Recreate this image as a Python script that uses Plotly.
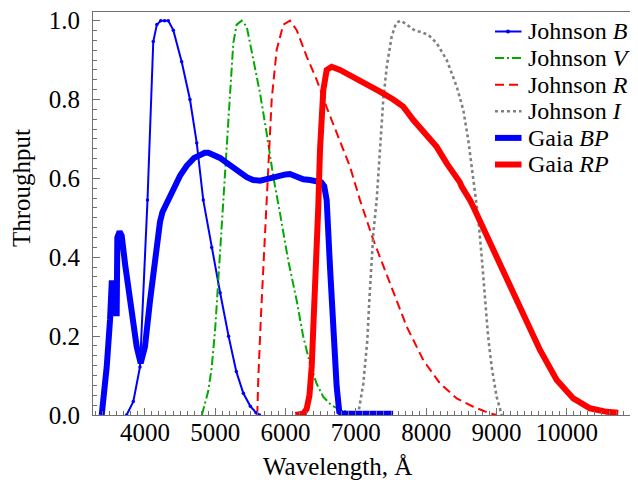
import plotly.graph_objects as go

# ---------------- data (wavelength in Angstrom, throughput) ----------------
B_wl = [3740, 3835, 3930, 4037, 4119, 4170, 4225, 4280, 4333, 4404, 4523, 4641, 4737,
        4830, 4950, 5070, 5190, 5300, 5400, 5500, 5580, 5630]
B_tp = [0.0, 0.034, 0.122, 0.545, 0.947, 0.99, 1.0, 1.0, 1.0, 0.976, 0.896, 0.80, 0.69,
        0.545, 0.425, 0.31, 0.20, 0.11, 0.055, 0.022, 0.006, 0.0]

V_wl = [4810, 4900, 4950, 5000, 5050, 5115, 5163, 5210, 5257, 5305, 5376, 5448, 5541,
        5637, 5732, 5826, 5921, 6040, 6159, 6250, 6348, 6440, 6537, 6650, 6760, 6870, 7030]
V_tp = [0.0, 0.06, 0.12, 0.22, 0.36, 0.545, 0.655, 0.80, 0.943, 0.99, 1.0, 0.985, 0.90,
        0.816, 0.714, 0.604, 0.512, 0.39, 0.29, 0.20, 0.13, 0.08, 0.046, 0.025, 0.015, 0.008, 0.0]

R_wl = [5598, 5612, 5650, 5690, 5732, 5803, 5874, 5968, 6063, 6159, 6301, 6443, 6585,
        6727, 6916, 7059, 7248, 7486, 7723, 7959, 8196, 8434, 8670, 8907, 9007]
R_tp = [0.0, 0.09, 0.25, 0.40, 0.562, 0.80, 0.926, 0.99, 1.0, 0.976, 0.909, 0.85, 0.78,
        0.714, 0.63, 0.545, 0.444, 0.334, 0.224, 0.139, 0.08, 0.042, 0.021, 0.004, 0.0]

I_wl = [7020, 7035, 7106, 7163, 7191, 7225, 7248, 7296, 7343, 7390, 7439, 7509, 7570,
        7630, 7700, 7770, 7840, 7912, 8030, 8149, 8292, 8434, 8528, 8599, 8647, 8694,
        8740, 8790, 8835, 8880, 8931, 9002, 9074]
I_tp = [0.0, 0.004, 0.08, 0.19, 0.29, 0.376, 0.46, 0.545, 0.672, 0.80, 0.883, 0.96, 0.993,
        1.0, 0.993, 0.985, 0.975, 0.972, 0.964, 0.943, 0.90, 0.833, 0.773, 0.697, 0.63, 0.562,
        0.50, 0.40, 0.30, 0.20, 0.122, 0.046, 0.0]

BP_wl = [3386, 3457, 3504, 3528, 3560, 3575, 3599, 3608, 3640, 3670, 3720, 3788, 3883,
         3940, 4001, 4073, 4144, 4215, 4250, 4300, 4357, 4400, 4500, 4594, 4650, 4700,
         4784, 4850, 4902, 4980, 5068, 5160, 5257, 5350, 5448, 5540, 5637, 5730, 5826,
         5921, 6000, 6063, 6160, 6252, 6350, 6443, 6510, 6550, 6585, 6632, 6679, 6727,
         6764, 6800, 7000, 7200, 7400, 7530]
BP_tp = [0.0, 0.122, 0.241, 0.334, 0.334, 0.258, 0.258, 0.45, 0.465, 0.455, 0.38, 0.29, 0.173,
         0.131, 0.173, 0.29, 0.393, 0.49, 0.515, 0.535, 0.552, 0.573, 0.607, 0.632, 0.645, 0.652,
         0.659, 0.665, 0.665, 0.66, 0.652, 0.64, 0.628, 0.613, 0.603, 0.596, 0.594, 0.598, 0.603,
         0.604, 0.61, 0.611, 0.605, 0.598, 0.596, 0.593, 0.59, 0.58, 0.545, 0.376, 0.207, 0.072,
         0.008, 0.004, 0.003, 0.003, 0.003, 0.003]

RP_wl = [6140, 6206, 6250, 6300, 6340, 6372, 6395, 6419, 6443, 6466, 6490, 6514, 6537,
         6585, 6656, 6774, 6963, 7154, 7343, 7532, 7674, 7817, 8007, 8149, 8292, 8434,
         8480, 8505, 8560, 8623, 8670, 8907, 9145, 9381, 9618, 9856, 10092, 10329, 10567, 10732]
RP_tp = [0.0, 0.0, 0.003, 0.015, 0.05, 0.122, 0.207, 0.29, 0.418, 0.53, 0.672, 0.757, 0.824,
         0.875, 0.883, 0.875, 0.858, 0.841, 0.82, 0.80, 0.782, 0.748, 0.706, 0.68, 0.638, 0.604,
         0.59, 0.579, 0.565, 0.545, 0.528, 0.435, 0.342, 0.249, 0.165, 0.089, 0.042, 0.017,
         0.008, 0.006]

x_ticks = [4000, 5000, 6000, 7000, 8000, 9000, 10000, 11000]
x_ticktext = ["4000", "5000", "6000", "7000", "8000", "9000", "10000", ""]
y_ticks = [0.0, 0.2, 0.4, 0.6, 0.8, 1.0]
y_ticktext = ["0.0", "0.2", "0.4", "0.6", "0.8", "1.0"]

legend_names = ["Johnson <i>B</i>", "Johnson <i>V</i>", "Johnson <i>R</i>",
                "Johnson <i>I</i>", "Gaia <i>BP</i>", "Gaia <i>RP</i>"]

# ---------------- styles ----------------
BLUE = "#0000ff"
GREEN = "#00aa00"
RED = "#ff0000"
GRAY = "#808080"
FRAME = "#707070"
FONT = "Liberation Serif, Times New Roman, DejaVu Serif, serif"
FS = 25
FS_LEG = 24

styles = [
    dict(color=BLUE, width=2, dash="solid"),
    dict(color=GREEN, width=2, dash="9px,3px,2px,3px"),
    dict(color=RED, width=2, dash="9px,5px"),
    dict(color=GRAY, width=2.6, dash="3px,3px"),
    dict(color=BLUE, width=6, dash="solid"),
    dict(color=RED, width=6, dash="solid"),
]

series = [(B_wl, B_tp), (V_wl, V_tp), (R_wl, R_tp), (I_wl, I_tp), (BP_wl, BP_tp), (RP_wl, RP_tp)]

fig = go.Figure()
for (wl, tp), st, name in zip(series, styles, legend_names):
    fig.add_trace(go.Scatter(
        x=wl, y=tp, name=name, mode="lines", line=st, showlegend=False,
    ))
# small dots on Johnson B sample points
fig.add_trace(go.Scatter(x=B_wl, y=B_tp, mode="markers", showlegend=False,
                         marker=dict(color=BLUE, size=3.5)))

# ---------------- layout geometry ----------------
# the page body adds an 8 px offset; target positions below are page pixels
OFF = 8
W, H = 638, 484
PL, PR, PT, PB = 93, 638, 12, 415          # plot area in page pixels
L, T = PL - OFF, PT - OFF
R_ = W - (PR - OFF)
Bm = H - (PB - OFF)
pw, ph = W - L - R_, H - T - Bm

def px_x(p):
    return (p - PL) / pw

def px_y(p):
    return (PB - p) / ph

shapes = []
annotations = []
row0, drow = 31.5, 26.6
for i, (st, name) in enumerate(zip(styles, legend_names)):
    yc = px_y(row0 + i * drow)
    shapes.append(dict(type="line", xref="paper", yref="paper",
                       x0=px_x(495), x1=px_x(521.5), y0=yc, y1=yc,
                       line=dict(color=st["color"], width=st["width"], dash=st["dash"])))
    annotations.append(dict(xref="paper", yref="paper", x=px_x(525.5), y=yc,
                            xanchor="left", yanchor="middle", showarrow=False,
                            text=name, font=dict(family=FONT, size=FS_LEG, color="black")))
# dot in the Johnson B legend sample
shapes.append(dict(type="circle", xref="paper", yref="paper",
                   xsizemode="pixel", ysizemode="pixel",
                   xanchor=px_x(508), yanchor=px_y(row0),
                   x0=-2, x1=2, y0=-2, y1=2,
                   fillcolor=BLUE, line=dict(width=0)))

annotations.append(dict(xref="paper", yref="paper", x=px_x(337), y=px_y(466),
                        xanchor="center", yanchor="middle", showarrow=False,
                        text="Wavelength, Å", font=dict(family=FONT, size=FS, color="black")))
annotations.append(dict(xref="paper", yref="paper", x=px_x(21.5), y=px_y(188.5),
                        xanchor="center", yanchor="middle", showarrow=False, textangle=-90,
                        text="Throughput", font=dict(family=FONT, size=FS, color="black")))

fig.update_layout(
    width=W, height=H,
    margin=dict(l=L, r=R_, t=T, b=Bm, pad=0, autoexpand=False),
    paper_bgcolor="white", plot_bgcolor="white",
    font=dict(family=FONT, size=FS, color="black"),
    shapes=shapes, annotations=annotations,
    showlegend=False,
)
fig.update_xaxes(
    range=[3262, 11012], showgrid=False, zeroline=False, automargin=False,
    showline=True, linecolor=FRAME, linewidth=1.2, mirror=True,
    tickmode="array", tickvals=x_ticks, ticktext=x_ticktext,
    ticks="inside", ticklen=7, tickwidth=1, tickcolor=FRAME,
    ticklabelstandoff=-5, ticklabeloverflow="allow",
    tickfont=dict(family=FONT, size=FS, color="black"),
    minor=dict(tickmode="linear", tick0=0, dtick=100, ticks="inside",
               ticklen=3.5, tickwidth=1, tickcolor=FRAME, showgrid=False),
)
fig.update_yaxes(
    range=[0, 1.022], showgrid=False, zeroline=False, automargin=False,
    showline=True, linecolor=FRAME, linewidth=1.2, mirror=False,
    tickmode="array", tickvals=y_ticks, ticktext=y_ticktext,
    ticks="inside", ticklen=7, tickwidth=1, tickcolor=FRAME,
    ticklabelstandoff=7, ticklabeloverflow="allow",
    tickfont=dict(family=FONT, size=FS, color="black"),
    minor=dict(tickmode="linear", tick0=0, dtick=0.025, ticks="inside",
               ticklen=3.5, tickwidth=1, tickcolor=FRAME, showgrid=False),
)

fig.write_html("out.html")
